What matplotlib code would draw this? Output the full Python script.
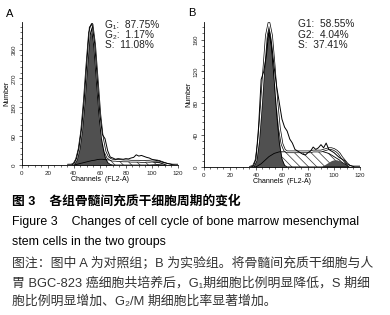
import numpy as np
import matplotlib
matplotlib.use('Agg')
import matplotlib.pyplot as plt

plt.rcParams['font.family'] = ['Liberation Sans', 'Noto Sans CJK SC', 'DejaVu Sans']
plt.rcParams['hatch.linewidth'] = 0.5

# channels (FL2-A), every 2 channels
ch = list(range(36, 122, 2))

# panel A (control)
a_raw = [0, 0, 4, 20, 55, 115, 205, 320, 430, 440, 380, 270, 160, 95, 82, 45, 25, 22, 18, 20, 19, 18,
         20, 19, 22, 24, 32, 28, 30, 27, 24, 22, 18, 16, 14, 12, 9, 7, 5, 3, 1, 0, 0]
a_g1 = [0, 0, 3, 15, 45, 100, 190, 300, 400, 425, 360, 250, 140, 65, 25, 8, 2, 0, 0, 0, 0, 0,
        0, 0, 0, 0, 0, 0, 0, 0, 0, 0, 0, 0, 0, 0, 0, 0, 0, 0, 0, 0, 0]
a_s = [0, 0, 0, 2, 4, 6, 8, 10, 12, 14, 15, 17, 18, 18, 17, 16, 16, 15, 15, 14, 14, 13,
       13, 13, 12, 12, 12, 12, 11, 11, 11, 10, 10, 9, 8, 7, 5, 4, 2, 1, 0, 0, 0]
a_g2 = [0, 0, 0, 0, 0, 0, 0, 0, 0, 0, 0, 0, 0, 0, 0, 0, 0, 0, 0, 0, 0, 0,
        0, 0, 0, 0, 0, 0, 0, 0, 1, 2, 3, 4, 5, 4, 3, 1, 0, 0, 0, 0, 0]

# panel B (experiment)
b_raw = [0, 1, 10, 50, 110, 120, 140, 172, 155, 125, 100, 80, 60, 50, 45, 35, 30, 22, 20, 18, 16, 15,
         18, 20, 25, 22, 24, 28, 24, 30, 22, 20, 18, 15, 12, 10, 8, 4, 2, 1, 0, 0, 0]
b_g1 = [0, 1, 8, 30, 70, 115, 155, 168, 150, 110, 65, 30, 10, 2, 0, 0, 0, 0, 0, 0, 0, 0,
        0, 0, 0, 0, 0, 0, 0, 0, 0, 0, 0, 0, 0, 0, 0, 0, 0, 0, 0, 0, 0]
b_s = [0, 0, 0, 2, 4, 7, 10, 13, 15, 17, 18, 19, 19, 19, 19, 19, 19, 19, 19, 19, 19, 19,
       19, 19, 20, 20, 20, 20, 19, 18, 17, 15, 13, 11, 9, 6, 4, 2, 0, 0, 0, 0, 0]
b_g2 = [0, 0, 0, 0, 0, 0, 0, 0, 0, 0, 0, 0, 0, 0, 0, 0, 0, 0, 0, 0, 0, 0,
        0, 0, 0, 0, 0, 0, 2, 4, 6, 8, 9, 9, 8, 6, 4, 2, 1, 0, 0, 0, 0]

a_text = ['G₁:  87.75%', 'G₂:  1.17%', 'S:  11.08%']
b_text = ['G1:  58.55%', 'G2:  4.04%', 'S:  37.41%']

fig = plt.figure(figsize=(3.9, 3.15), dpi=100)

def panel(rect, raw, g1, s, g2, ymax, yticks, letter, texts, tx):
    ax = fig.add_axes(rect)
    x = np.array(ch)
    s = np.array(s)
    fit = np.array(g1) + s + np.array(g2)
    ax.fill_between(x, 0, s, facecolor='white', edgecolor='#333333', hatch='\\\\\\\\', lw=0)
    ax.fill_between(x, 0, g1, color='#505050', lw=0)
    ax.fill_between(x, 0, g2, color='#505050', lw=0)
    ax.plot(x, g1, color='black', lw=0.6)
    ax.plot(x, s, color='black', lw=0.6)
    ax.plot(x, fit, color='black', lw=1.8)
    ax.plot(x, fit, color='white', lw=0.8)
    ax.plot(x, raw, color='black', lw=0.7)
    ax.set_xlim(0, 120)
    ax.set_ylim(0, ymax)
    ax.set_xticks(range(0, 121, 20))
    ax.set_xticks(range(0, 121, 5), minor=True)
    ax.set_yticks(yticks)
    ax.set_yticks(np.arange(0, ymax, yticks[1] / 5), minor=True)
    ax.spines['top'].set_visible(False)
    ax.spines['right'].set_visible(False)
    ax.spines['left'].set_linewidth(0.6)
    ax.spines['bottom'].set_linewidth(0.6)
    ax.tick_params(labelsize=4.5, length=2.5, width=0.5, pad=1.5, colors='#222222')
    ax.tick_params(which='minor', length=1.5, width=0.4)
    for lab in ax.get_yticklabels():
        lab.set_rotation(90)
        lab.set_va('center')
    ax.set_xlabel('Channels  (FL2-A)', fontsize=5, labelpad=0)
    ax.set_ylabel('Number', fontsize=5, labelpad=1)
    ax.text(-0.1, 1.06, letter, transform=ax.transAxes, fontsize=8, va='center')
    for i, t in enumerate(texts):
        ax.text(tx, 0.985 - i * 0.072, t, transform=ax.transAxes, fontsize=7.3, va='center', color='#222222')
    return ax

panel([0.056, 0.476, 0.4, 0.453], a_raw, a_g1, a_s, a_g2, 445, [0, 90, 180, 270, 360], 'A', a_text, 0.53)
panel([0.523, 0.470, 0.4, 0.46], b_raw, b_g1, b_s, b_g2, 182, [0, 40, 80, 120, 160], 'B', b_text, 0.6)

def fy(py):
    return 1 - py / 315

x0 = 12 / 390
fig.text(x0, fy(201), '图 3    各组骨髓间充质干细胞周期的变化', fontsize=9.2, fontweight='bold', va='center')
fig.text(x0, fy(222), 'Figure 3    Changes of cell cycle of bone marrow mesenchymal', fontsize=8.9, va='center')
fig.text(x0, fy(242), 'stem cells in the two groups', fontsize=8.9, va='center')
note_color = '#333333'
fig.text(x0, fy(263), '图注：图中 A 为对照组；B 为实验组。将骨髓间充质干细胞与人', fontsize=9.3, va='center', color=note_color)
fig.text(x0, fy(283), '胃 BGC-823 癌细胞共培养后，G₁期细胞比例明显降低，S 期细', fontsize=9.3, va='center', color=note_color)
fig.text(x0, fy(302), '胞比例明显增加、G₂/M 期细胞比率显著增加。', fontsize=9.3, va='center', color=note_color)

fig.savefig('out.png', dpi=100)
